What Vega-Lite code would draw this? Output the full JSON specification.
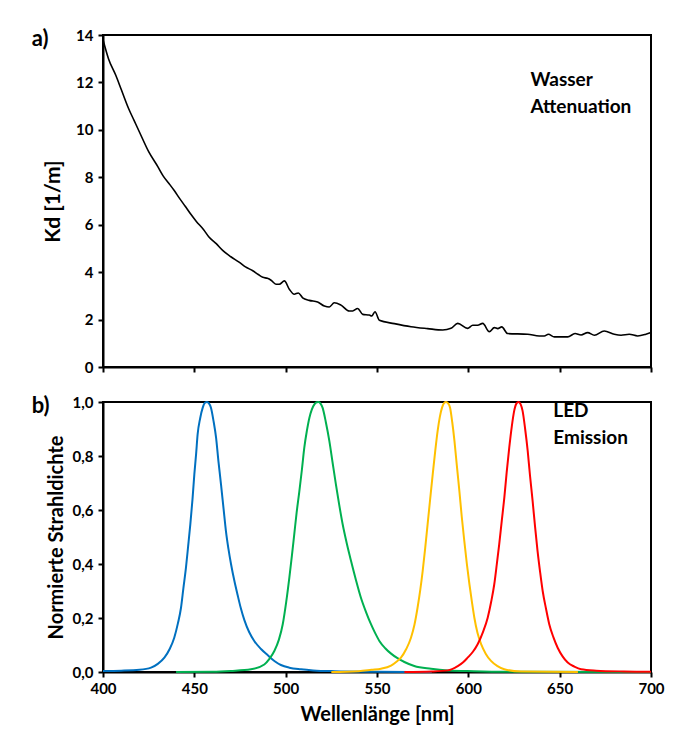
{
  "$schema": "https://vega.github.io/schema/vega-lite/v6.json",
  "padding": {"left": 30, "top": 26, "right": 16, "bottom": 10},
  "background": "white",
  "config": {
    "font": "Lato",
    "locale": {"number": {"decimal": ",", "thousands": ".", "grouping": [3], "currency": ["", " €"]}},
    "view": {"stroke": "black", "strokeWidth": 2},
    "axis": {
      "grid": false,
      "labelFlush": false,
      "labelOverlap": false,
      "domainColor": "black",
      "domainWidth": 2,
      "tickColor": "black",
      "tickWidth": 2,
      "tickSize": 5,
      "labelFont": "Lato",
      "labelFontWeight": "bold",
      "labelFontSize": 15,
      "labelColor": "black",
      "titleFont": "Lato",
      "titleFontWeight": "bold",
      "titleFontSize": 20,
      "titleColor": "black"
    }
  },
  "datasets": {
    "water": [
      {"wl": 400, "kd": 13.8}, {"wl": 403, "kd": 13.0}, {"wl": 407, "kd": 12.3}, {"wl": 410, "kd": 11.7},
      {"wl": 414, "kd": 10.9}, {"wl": 417, "kd": 10.4}, {"wl": 420, "kd": 9.9}, {"wl": 425, "kd": 9.08},
      {"wl": 430, "kd": 8.45}, {"wl": 433, "kd": 8.05}, {"wl": 436, "kd": 7.75}, {"wl": 439, "kd": 7.44},
      {"wl": 442, "kd": 7.1}, {"wl": 445, "kd": 6.78}, {"wl": 448, "kd": 6.45}, {"wl": 451, "kd": 6.15},
      {"wl": 455, "kd": 5.8}, {"wl": 458, "kd": 5.48}, {"wl": 462, "kd": 5.2}, {"wl": 465.5, "kd": 4.92},
      {"wl": 470, "kd": 4.65}, {"wl": 474.5, "kd": 4.42}, {"wl": 478, "kd": 4.22}, {"wl": 482, "kd": 4.06},
      {"wl": 485, "kd": 3.9}, {"wl": 487.5, "kd": 3.78}, {"wl": 490, "kd": 3.74}, {"wl": 492, "kd": 3.66},
      {"wl": 494.7, "kd": 3.49}, {"wl": 496.5, "kd": 3.49}, {"wl": 499.3, "kd": 3.63}, {"wl": 502, "kd": 3.28},
      {"wl": 504.7, "kd": 3.07}, {"wl": 506.9, "kd": 3.12}, {"wl": 509.3, "kd": 2.92}, {"wl": 512.9, "kd": 2.81},
      {"wl": 517.5, "kd": 2.74}, {"wl": 521.2, "kd": 2.57}, {"wl": 523.9, "kd": 2.53}, {"wl": 526.6, "kd": 2.71},
      {"wl": 530.3, "kd": 2.61}, {"wl": 534.8, "kd": 2.36}, {"wl": 536.7, "kd": 2.36}, {"wl": 539.4, "kd": 2.47},
      {"wl": 542.2, "kd": 2.22}, {"wl": 545.8, "kd": 2.19}, {"wl": 547.1, "kd": 2.15}, {"wl": 548.9, "kd": 2.33},
      {"wl": 551.3, "kd": 1.97}, {"wl": 559.5, "kd": 1.83}, {"wl": 568.6, "kd": 1.7}, {"wl": 577.7, "kd": 1.62},
      {"wl": 586, "kd": 1.56}, {"wl": 590.5, "kd": 1.63}, {"wl": 594.2, "kd": 1.84}, {"wl": 599.6, "kd": 1.63},
      {"wl": 602.4, "kd": 1.76}, {"wl": 605.1, "kd": 1.76}, {"wl": 607.9, "kd": 1.84}, {"wl": 611.5, "kd": 1.49},
      {"wl": 614.2, "kd": 1.66}, {"wl": 616.1, "kd": 1.62}, {"wl": 618.3, "kd": 1.69}, {"wl": 621.5, "kd": 1.41},
      {"wl": 632.5, "kd": 1.38}, {"wl": 638.8, "kd": 1.31}, {"wl": 641.6, "kd": 1.31}, {"wl": 643.8, "kd": 1.38},
      {"wl": 647.1, "kd": 1.27}, {"wl": 654.4, "kd": 1.27}, {"wl": 658.4, "kd": 1.41}, {"wl": 661.7, "kd": 1.35},
      {"wl": 665.3, "kd": 1.45}, {"wl": 669, "kd": 1.34}, {"wl": 674.4, "kd": 1.52}, {"wl": 679.9, "kd": 1.38},
      {"wl": 683.6, "kd": 1.34}, {"wl": 688.1, "kd": 1.38}, {"wl": 692.7, "kd": 1.31}, {"wl": 697.2, "kd": 1.38},
      {"wl": 700, "kd": 1.45}
    ],
    "led": [
      {"led": "blue", "wl": 400, "v": 0.004}, {"led": "blue", "wl": 410, "v": 0.005}, {"led": "blue", "wl": 420, "v": 0.008},
      {"led": "blue", "wl": 426.3, "v": 0.016}, {"led": "blue", "wl": 430, "v": 0.03}, {"led": "blue", "wl": 433.6, "v": 0.053},
      {"led": "blue", "wl": 436.5, "v": 0.085}, {"led": "blue", "wl": 439, "v": 0.127}, {"led": "blue", "wl": 441, "v": 0.18},
      {"led": "blue", "wl": 442.7, "v": 0.238}, {"led": "blue", "wl": 444, "v": 0.31}, {"led": "blue", "wl": 445.4, "v": 0.386},
      {"led": "blue", "wl": 446.6, "v": 0.465}, {"led": "blue", "wl": 447.8, "v": 0.547}, {"led": "blue", "wl": 449, "v": 0.64},
      {"led": "blue", "wl": 450, "v": 0.732}, {"led": "blue", "wl": 451, "v": 0.81}, {"led": "blue", "wl": 451.8, "v": 0.88},
      {"led": "blue", "wl": 453.2, "v": 0.94}, {"led": "blue", "wl": 454.6, "v": 0.979}, {"led": "blue", "wl": 455.8, "v": 0.997},
      {"led": "blue", "wl": 456.9, "v": 1.0}, {"led": "blue", "wl": 458, "v": 0.995}, {"led": "blue", "wl": 459.1, "v": 0.979},
      {"led": "blue", "wl": 460.5, "v": 0.93}, {"led": "blue", "wl": 461.9, "v": 0.868}, {"led": "blue", "wl": 463.2, "v": 0.78},
      {"led": "blue", "wl": 464.6, "v": 0.695}, {"led": "blue", "wl": 466, "v": 0.605}, {"led": "blue", "wl": 467.3, "v": 0.522},
      {"led": "blue", "wl": 468.7, "v": 0.455}, {"led": "blue", "wl": 470.1, "v": 0.399}, {"led": "blue", "wl": 472, "v": 0.335},
      {"led": "blue", "wl": 473.7, "v": 0.285}, {"led": "blue", "wl": 475.5, "v": 0.235}, {"led": "blue", "wl": 477.4, "v": 0.192},
      {"led": "blue", "wl": 480, "v": 0.148}, {"led": "blue", "wl": 482.8, "v": 0.115}, {"led": "blue", "wl": 486.5, "v": 0.085},
      {"led": "blue", "wl": 490.2, "v": 0.062}, {"led": "blue", "wl": 494, "v": 0.04}, {"led": "blue", "wl": 497.4, "v": 0.026},
      {"led": "blue", "wl": 502, "v": 0.016}, {"led": "blue", "wl": 508.4, "v": 0.01}, {"led": "blue", "wl": 515, "v": 0.006},
      {"led": "blue", "wl": 526.7, "v": 0.003}, {"led": "blue", "wl": 550, "v": 0.001}, {"led": "blue", "wl": 580, "v": 0},

      {"led": "green", "wl": 440, "v": 0}, {"led": "green", "wl": 460, "v": 0.001}, {"led": "green", "wl": 470, "v": 0.004},
      {"led": "green", "wl": 481, "v": 0.01}, {"led": "green", "wl": 488.3, "v": 0.028}, {"led": "green", "wl": 491, "v": 0.048},
      {"led": "green", "wl": 493.8, "v": 0.078}, {"led": "green", "wl": 496.3, "v": 0.12}, {"led": "green", "wl": 498.4, "v": 0.177},
      {"led": "green", "wl": 500.3, "v": 0.26}, {"led": "green", "wl": 502, "v": 0.349}, {"led": "green", "wl": 503.4, "v": 0.43},
      {"led": "green", "wl": 504.7, "v": 0.51}, {"led": "green", "wl": 506, "v": 0.59}, {"led": "green", "wl": 507.5, "v": 0.67},
      {"led": "green", "wl": 508.9, "v": 0.75}, {"led": "green", "wl": 510.2, "v": 0.831}, {"led": "green", "wl": 511.6, "v": 0.893},
      {"led": "green", "wl": 513, "v": 0.942}, {"led": "green", "wl": 514.3, "v": 0.972}, {"led": "green", "wl": 515.7, "v": 0.991},
      {"led": "green", "wl": 517, "v": 0.999}, {"led": "green", "wl": 518.1, "v": 1.0}, {"led": "green", "wl": 519.1, "v": 0.994},
      {"led": "green", "wl": 520.2, "v": 0.979}, {"led": "green", "wl": 522, "v": 0.925}, {"led": "green", "wl": 523.9, "v": 0.856},
      {"led": "green", "wl": 525.7, "v": 0.775}, {"led": "green", "wl": 527.5, "v": 0.695}, {"led": "green", "wl": 529.3, "v": 0.62},
      {"led": "green", "wl": 531.2, "v": 0.547}, {"led": "green", "wl": 533.5, "v": 0.475}, {"led": "green", "wl": 535.8, "v": 0.411},
      {"led": "green", "wl": 538.5, "v": 0.34}, {"led": "green", "wl": 541.2, "v": 0.275}, {"led": "green", "wl": 544, "v": 0.222},
      {"led": "green", "wl": 546.7, "v": 0.177}, {"led": "green", "wl": 549, "v": 0.144}, {"led": "green", "wl": 551.3, "v": 0.115},
      {"led": "green", "wl": 554.5, "v": 0.088}, {"led": "green", "wl": 557.7, "v": 0.068}, {"led": "green", "wl": 561, "v": 0.052},
      {"led": "green", "wl": 565, "v": 0.037}, {"led": "green", "wl": 570.4, "v": 0.022}, {"led": "green", "wl": 579.6, "v": 0.012},
      {"led": "green", "wl": 588.7, "v": 0.006}, {"led": "green", "wl": 603, "v": 0.003}, {"led": "green", "wl": 620, "v": 0.001},
      {"led": "green", "wl": 700, "v": 0},

      {"led": "yellow", "wl": 525, "v": 0}, {"led": "yellow", "wl": 540, "v": 0.003},
      {"led": "yellow", "wl": 547, "v": 0.008}, {"led": "yellow", "wl": 552.2, "v": 0.012}, {"led": "yellow", "wl": 557.7, "v": 0.024},
      {"led": "yellow", "wl": 561, "v": 0.04}, {"led": "yellow", "wl": 563.1, "v": 0.053}, {"led": "yellow", "wl": 566, "v": 0.085},
      {"led": "yellow", "wl": 568.6, "v": 0.127}, {"led": "yellow", "wl": 570.5, "v": 0.175}, {"led": "yellow", "wl": 572.2, "v": 0.238},
      {"led": "yellow", "wl": 573.7, "v": 0.305}, {"led": "yellow", "wl": 575, "v": 0.374}, {"led": "yellow", "wl": 576.4, "v": 0.46},
      {"led": "yellow", "wl": 577.7, "v": 0.547}, {"led": "yellow", "wl": 579.1, "v": 0.64}, {"led": "yellow", "wl": 580.5, "v": 0.732},
      {"led": "yellow", "wl": 581.9, "v": 0.82}, {"led": "yellow", "wl": 583.2, "v": 0.893}, {"led": "yellow", "wl": 584.4, "v": 0.945},
      {"led": "yellow", "wl": 585.6, "v": 0.979}, {"led": "yellow", "wl": 586.7, "v": 0.996}, {"led": "yellow", "wl": 587.8, "v": 1.0},
      {"led": "yellow", "wl": 588.9, "v": 0.995}, {"led": "yellow", "wl": 590, "v": 0.979}, {"led": "yellow", "wl": 591.2, "v": 0.925},
      {"led": "yellow", "wl": 592.4, "v": 0.856}, {"led": "yellow", "wl": 593.7, "v": 0.765}, {"led": "yellow", "wl": 595.1, "v": 0.67},
      {"led": "yellow", "wl": 596.4, "v": 0.575}, {"led": "yellow", "wl": 597.8, "v": 0.485}, {"led": "yellow", "wl": 599.2, "v": 0.4},
      {"led": "yellow", "wl": 600.6, "v": 0.325}, {"led": "yellow", "wl": 602, "v": 0.258}, {"led": "yellow", "wl": 603.3, "v": 0.201},
      {"led": "yellow", "wl": 605, "v": 0.145}, {"led": "yellow", "wl": 607, "v": 0.103}, {"led": "yellow", "wl": 609.5, "v": 0.068},
      {"led": "yellow", "wl": 612.4, "v": 0.041}, {"led": "yellow", "wl": 616, "v": 0.022}, {"led": "yellow", "wl": 619.7, "v": 0.01},
      {"led": "yellow", "wl": 628.8, "v": 0.002}, {"led": "yellow", "wl": 660, "v": 0},

      {"led": "red", "wl": 565, "v": 0}, {"led": "red", "wl": 580, "v": 0.002},
      {"led": "red", "wl": 588.7, "v": 0.006}, {"led": "red", "wl": 594.2, "v": 0.022}, {"led": "red", "wl": 597, "v": 0.035},
      {"led": "red", "wl": 599.6, "v": 0.053}, {"led": "red", "wl": 602.5, "v": 0.075}, {"led": "red", "wl": 605.1, "v": 0.103},
      {"led": "red", "wl": 608, "v": 0.148}, {"led": "red", "wl": 610.6, "v": 0.201}, {"led": "red", "wl": 612.5, "v": 0.26},
      {"led": "red", "wl": 614.2, "v": 0.325}, {"led": "red", "wl": 615.6, "v": 0.4}, {"led": "red", "wl": 616.9, "v": 0.473},
      {"led": "red", "wl": 618.3, "v": 0.56}, {"led": "red", "wl": 619.7, "v": 0.646}, {"led": "red", "wl": 621, "v": 0.74},
      {"led": "red", "wl": 622.4, "v": 0.831}, {"led": "red", "wl": 623.8, "v": 0.91}, {"led": "red", "wl": 625.1, "v": 0.967},
      {"led": "red", "wl": 626.3, "v": 0.994}, {"led": "red", "wl": 627.5, "v": 1.0}, {"led": "red", "wl": 628.6, "v": 0.992},
      {"led": "red", "wl": 629.7, "v": 0.967}, {"led": "red", "wl": 631.1, "v": 0.9}, {"led": "red", "wl": 632.5, "v": 0.819},
      {"led": "red", "wl": 633.8, "v": 0.725}, {"led": "red", "wl": 635.2, "v": 0.633}, {"led": "red", "wl": 636.5, "v": 0.54},
      {"led": "red", "wl": 637.9, "v": 0.448}, {"led": "red", "wl": 639.3, "v": 0.37}, {"led": "red", "wl": 640.7, "v": 0.3},
      {"led": "red", "wl": 642.5, "v": 0.235}, {"led": "red", "wl": 644.3, "v": 0.177}, {"led": "red", "wl": 646.6, "v": 0.128},
      {"led": "red", "wl": 648.9, "v": 0.09}, {"led": "red", "wl": 651.6, "v": 0.058}, {"led": "red", "wl": 654.4, "v": 0.035},
      {"led": "red", "wl": 658, "v": 0.02}, {"led": "red", "wl": 661.7, "v": 0.01}, {"led": "red", "wl": 670, "v": 0.005},
      {"led": "red", "wl": 685, "v": 0.002}, {"led": "red", "wl": 700, "v": 0.001}
    ]
  },
  "vconcat": [
    {
      "width": 548,
      "height": 332,
      "layer": [
        {
          "data": {"name": "water"},
          "mark": {"type": "line", "color": "black", "strokeWidth": 1.6, "interpolate": "monotone"},
          "encoding": {
            "x": {"field": "wl", "type": "quantitative", "scale": {"domain": [400, 700], "nice": false},
                  "axis": {"values": [400, 450, 500, 550, 600, 650, 700], "labels": false, "title": null}},
            "y": {"field": "kd", "type": "quantitative", "scale": {"domain": [0, 14], "nice": false},
                  "axis": {"values": [0, 2, 4, 6, 8, 10, 12, 14], "title": "Kd [1/m]", "titlePadding": 12, "labelPadding": 5, "titleFontSize": 21}}
          }
        },
        {
          "data": {"values": [{}]},
          "mark": {"type": "text", "align": "left", "baseline": "middle", "font": "Lato", "fontWeight": "bold", "fontSize": 19, "lineHeight": 27, "color": "black"},
          "encoding": {
            "x": {"datum": 634},
            "y": {"datum": 12.1},
            "text": {"value": ["Wasser", "Attenuation"]}
          }
        },
        {
          "data": {"values": [{}]},
          "mark": {"type": "text", "align": "left", "baseline": "middle", "font": "Lato", "fontWeight": "bold", "fontSize": 22, "color": "black"},
          "encoding": {
            "x": {"datum": 361},
            "y": {"datum": 13.85},
            "text": {"value": "a)"}
          }
        }
      ]
    },
    {
      "width": 548,
      "height": 270,
      "layer": [
        {
          "data": {"name": "led"},
          "mark": {"type": "line", "strokeWidth": 2, "interpolate": "monotone"},
          "encoding": {
            "x": {"field": "wl", "type": "quantitative", "scale": {"domain": [400, 700], "nice": false},
                  "axis": {"values": [400, 450, 500, 550, 600, 650, 700], "title": "Wellenlänge [nm]", "labelPadding": 4, "titlePadding": 8}},
            "y": {"field": "v", "type": "quantitative", "scale": {"domain": [0, 1], "nice": false},
                  "axis": {"values": [0, 0.2, 0.4, 0.6, 0.8, 1.0], "format": ".1f", "title": "Normierte Strahldichte", "titlePadding": 6, "labelPadding": 5}},
            "color": {"field": "led", "type": "nominal", "legend": null,
                      "scale": {"domain": ["blue", "green", "yellow", "red"], "range": ["#0070C0", "#00B050", "#FFC000", "#FF0000"]}}
          }
        },
        {
          "data": {"values": [{}]},
          "mark": {"type": "text", "align": "left", "baseline": "middle", "font": "Lato", "fontWeight": "bold", "fontSize": 19, "lineHeight": 27, "color": "black"},
          "encoding": {
            "x": {"datum": 646.5},
            "y": {"datum": 0.967},
            "text": {"value": ["LED", "Emission"]}
          }
        },
        {
          "data": {"values": [{}]},
          "mark": {"type": "text", "align": "left", "baseline": "middle", "font": "Lato", "fontWeight": "bold", "fontSize": 22, "color": "black"},
          "encoding": {
            "x": {"datum": 361},
            "y": {"datum": 0.985},
            "text": {"value": "b)"}
          }
        }
      ]
    }
  ],
  "bounds": "flush",
  "spacing": 35
}
